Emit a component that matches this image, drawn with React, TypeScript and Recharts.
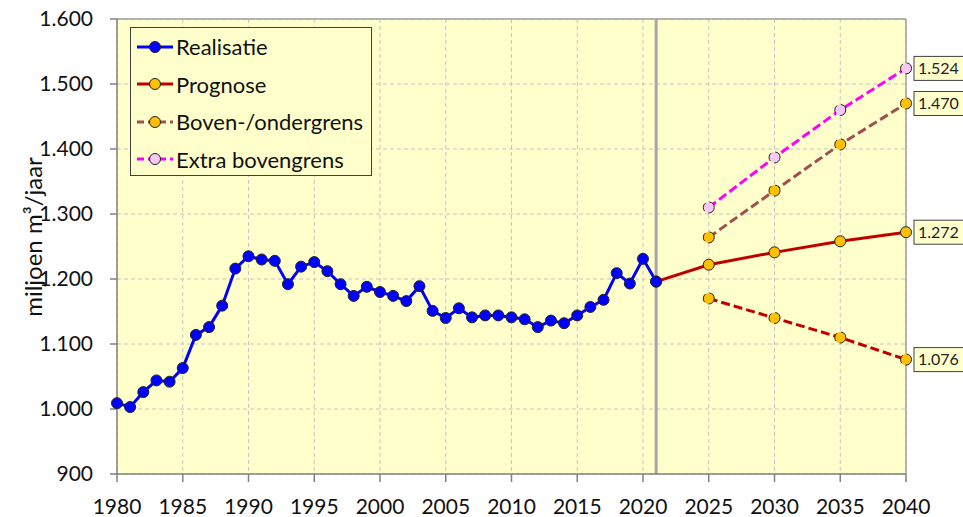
import React from 'react';
import { LineChart, Line, XAxis, YAxis, CartesianGrid, ReferenceLine, Legend, LabelList } from 'recharts';

const realYears = [
  1980, 1981, 1982, 1983, 1984, 1985, 1986, 1987, 1988, 1989,
  1990, 1991, 1992, 1993, 1994, 1995, 1996, 1997, 1998, 1999,
  2000, 2001, 2002, 2003, 2004, 2005, 2006, 2007, 2008, 2009,
  2010, 2011, 2012, 2013, 2014, 2015, 2016, 2017, 2018, 2019,
  2020, 2021,
];
const realisatie = [
  1009, 1003, 1026, 1044, 1042, 1063, 1114, 1126, 1159, 1216,
  1235, 1230, 1228, 1192, 1219, 1226, 1212, 1192, 1174, 1188,
  1180, 1174, 1166, 1189, 1151, 1140, 1155, 1141, 1144, 1144,
  1141, 1138, 1126, 1136, 1132, 1144, 1157, 1168, 1209, 1193,
  1231, 1196,
];
const prognoseYears = [2021, 2025, 2030, 2035, 2040];
const prognose = [1196, 1222, 1241, 1258, 1272];
const grensYears = [2025, 2030, 2035, 2040];
const bovengrens = [1264, 1336, 1407, 1470];
const ondergrens = [1170, 1140, 1110, 1076];
const extraBovengrens = [1310, 1387, 1460, 1524];

const xTicks = [1980, 1985, 1990, 1995, 2000, 2005, 2010, 2015, 2020, 2025, 2030, 2035, 2040];
const yTicks = [900, 1000, 1100, 1200, 1300, 1400, 1500, 1600];

const FONT = 'Lato, "Liberation Sans", sans-serif';
const BG = '#FFFFCC';
const C_BLUE = '#0000FF';
const C_RED = '#C00000';
const C_BROWN = '#A05050';
const C_MAGENTA = '#FF00FF';
const C_ORANGE = '#FFC000';
const C_PINK = '#F8C8F4';

type Row = { year: number; real?: number; prog?: number; boven?: number; onder?: number; extra?: number };

const buildRows = (): Row[] => {
  const map = new Map<number, Row>();
  const get = (y: number) => {
    if (!map.has(y)) map.set(y, { year: y });
    return map.get(y)!;
  };
  realYears.forEach((y, i) => { get(y).real = realisatie[i]; });
  prognoseYears.forEach((y, i) => { get(y).prog = prognose[i]; });
  grensYears.forEach((y, i) => {
    get(y).boven = bovengrens[i];
    get(y).onder = ondergrens[i];
    get(y).extra = extraBovengrens[i];
  });
  return Array.from(map.values()).sort((a, b) => a.year - b.year);
};
const rows = buildRows();

const fmt = (v: number) => String(v).replace(/\B(?=(\d{3})+(?!\d))/g, '.');

const EndLabel = (props: any) => {
  const { x, y, value, index } = props;
  if (index !== rows.length - 1 || value == null) return null;
  return (
    <g>
      <rect x={x + 8} y={y - 12} width={60} height={24} fill={BG} stroke="#404040" strokeWidth={1} />
      <text x={x + 12} y={y} dy="0.36em" fontSize={16} fontFamily={FONT} fill="#222">
        {fmt(value)}
      </text>
    </g>
  );
};

const legendItems = [
  { label: 'Realisatie', color: C_BLUE, dash: undefined as string | undefined, fill: C_BLUE },
  { label: 'Prognose', color: C_RED, dash: undefined, fill: C_ORANGE },
  { label: 'Boven-/ondergrens', color: C_BROWN, dash: '7 4', fill: C_ORANGE },
  { label: 'Extra bovengrens', color: C_MAGENTA, dash: '7 4', fill: C_PINK },
];

const LegendContent = () => (
  <div
    style={{
      width: 242,
      height: 149,
      boxSizing: 'border-box',
      border: '1.5px solid #404040',
      background: BG,
      fontFamily: FONT,
      fontSize: 22,
      color: '#111',
    }}
  >
    {legendItems.map((it) => (
      <div key={it.label} style={{ height: 37.5, display: 'flex', alignItems: 'center' }}>
        <svg width={44} height={20} style={{ marginLeft: 5 }}>
          <line x1={1} y1={10} x2={37} y2={10} stroke={it.color} strokeWidth={3} strokeDasharray={it.dash} />
          <circle cx={19} cy={10} r={5.5} fill={it.fill} stroke="#222" strokeWidth={1} />
        </svg>
        <span style={{ marginLeft: -4 }}>{it.label}</span>
      </div>
    ))}
  </div>
);

const YLabel = () => {
  const cx = 32;
  const cy = 237;
  return (
    <text
      x={cx}
      y={cy}
      transform={`rotate(-90 ${cx} ${cy})`}
      textAnchor="middle"
      dominantBaseline="central"
      fontSize={24}
      fontFamily={FONT}
      fill="#111"
    >
      miljoen m³/jaar
    </text>
  );
};

const dotStyle = (fill: string) => ({ r: 5.5, fill, stroke: '#222', strokeWidth: 1 });

export default function App() {
  return (
    <div style={{ position: 'absolute', left: 0, top: 0, width: 963, height: 517, background: '#fff' }}>
      <LineChart width={963} height={517} data={rows} margin={{ top: 19, right: 57, bottom: 0, left: 0 }}>
        <CartesianGrid stroke="#C4C4C4" strokeDasharray="4 3" fill={BG} verticalValues={xTicks} horizontalValues={yTicks} />
        <XAxis
          dataKey="year"
          type="number"
          domain={[1980, 2040]}
          ticks={xTicks}
          interval={0}
          height={43}
          tickSize={8}
          tickMargin={17}
          stroke="#808080"
          strokeWidth={1.5}
          tick={{ fontSize: 21, fontFamily: FONT, fill: '#111' }}
        />
        <YAxis
          type="number"
          domain={[900, 1600]}
          ticks={yTicks}
          interval={0}
          width={117}
          tickSize={7}
          tickMargin={17}
          stroke="#808080"
          strokeWidth={1.5}
          tickFormatter={fmt}
          tick={{ fontSize: 21, fontFamily: FONT, fill: '#111' }}
          label={<YLabel />}
        />
        <ReferenceLine y={1600} stroke="#A0A0A0" strokeWidth={1.5} />
        <ReferenceLine x={2040} stroke="#A0A0A0" strokeWidth={1.5} />
        <ReferenceLine x={2021} stroke="#A6A6A6" strokeWidth={3} />
        <Legend
          layout="vertical"
          align="center"
          verticalAlign="middle"
          content={<LegendContent />}
          wrapperStyle={{ position: 'absolute', left: 130, top: 27, width: 242, height: 149 }}
        />
        <Line dataKey="extra" stroke={C_MAGENTA} strokeWidth={3} strokeDasharray="9 4" dot={dotStyle(C_PINK)} activeDot={false} isAnimationActive={false}>
          <LabelList dataKey="extra" content={<EndLabel />} />
        </Line>
        <Line dataKey="boven" stroke={C_BROWN} strokeWidth={3} strokeDasharray="9 4" dot={dotStyle(C_ORANGE)} activeDot={false} isAnimationActive={false}>
          <LabelList dataKey="boven" content={<EndLabel />} />
        </Line>
        <Line dataKey="onder" stroke={C_RED} strokeWidth={3} strokeDasharray="9 4" dot={dotStyle(C_ORANGE)} activeDot={false} isAnimationActive={false}>
          <LabelList dataKey="onder" content={<EndLabel />} />
        </Line>
        <Line dataKey="prog" stroke={C_RED} strokeWidth={3} dot={dotStyle(C_ORANGE)} activeDot={false} isAnimationActive={false}>
          <LabelList dataKey="prog" content={<EndLabel />} />
        </Line>
        <Line dataKey="real" stroke={C_BLUE} strokeWidth={3} dot={dotStyle(C_BLUE)} activeDot={false} isAnimationActive={false} />
      </LineChart>
    </div>
  );
}
